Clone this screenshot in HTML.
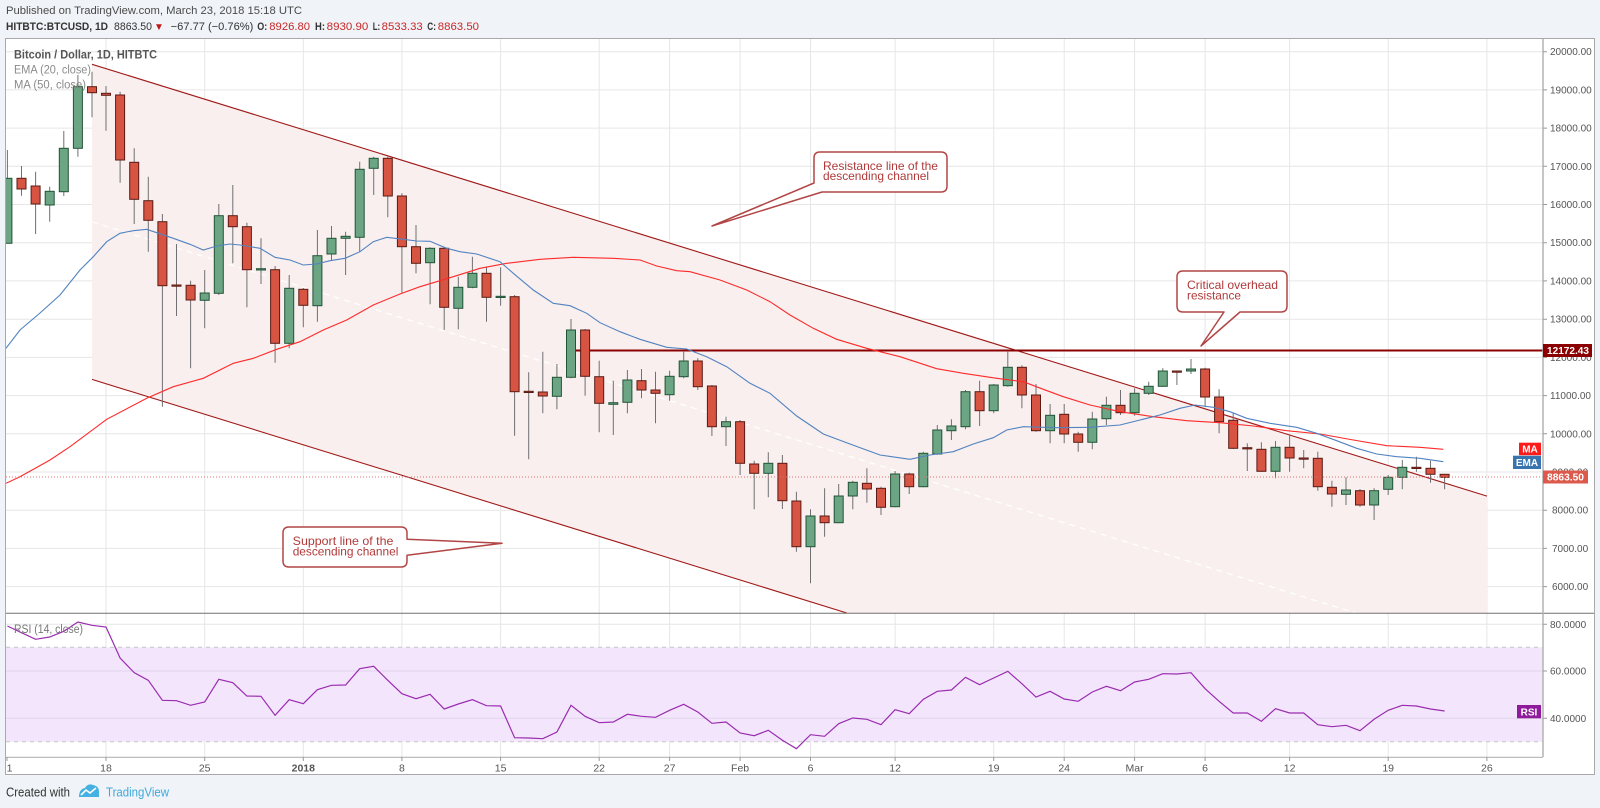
<!DOCTYPE html>
<html><head><meta charset="utf-8"><style>
html,body{margin:0;padding:0;background:#f0f3f7;}
svg{display:block;font-family:"Liberation Sans",Arial,sans-serif;}
</style></head><body>
<svg width="1600" height="808" viewBox="0 0 1600 808" xmlns="http://www.w3.org/2000/svg">
<defs>
<clipPath id="cp"><rect x="6" y="39" width="1537" height="574"/></clipPath>
<clipPath id="cr"><rect x="6" y="614" width="1537" height="143"/></clipPath>
</defs>
<!-- header -->
<text x="6" y="14" font-size="11" fill="#4a4a4a" textLength="296" lengthAdjust="spacingAndGlyphs">Published on TradingView.com, March 23, 2018 15:18 UTC</text>
<g font-size="11" fill="#333">
<text x="6" y="30" font-weight="bold" textLength="102" lengthAdjust="spacingAndGlyphs">HITBTC:BTCUSD, 1D</text>
<text x="114" y="30" textLength="38" lengthAdjust="spacingAndGlyphs">8863.50</text>
<text x="154" y="30" fill="#c01818" font-size="10">▼</text>
<text x="170.7" y="30" textLength="82.6" lengthAdjust="spacingAndGlyphs">−67.77 (−0.76%)</text>
<text x="257.3" y="30" font-weight="bold" textLength="10" lengthAdjust="spacingAndGlyphs">O:</text>
<text x="269.3" y="30" fill="#c82828" textLength="40.7" lengthAdjust="spacingAndGlyphs">8926.80</text>
<text x="315" y="30" font-weight="bold" textLength="10" lengthAdjust="spacingAndGlyphs">H:</text>
<text x="326.7" y="30" fill="#c82828" textLength="41.6" lengthAdjust="spacingAndGlyphs">8930.90</text>
<text x="372.7" y="30" font-weight="bold" textLength="7.5" lengthAdjust="spacingAndGlyphs">L:</text>
<text x="381.7" y="30" fill="#c82828" textLength="41" lengthAdjust="spacingAndGlyphs">8533.33</text>
<text x="427.3" y="30" font-weight="bold" textLength="8.7" lengthAdjust="spacingAndGlyphs">C:</text>
<text x="437.8" y="30" fill="#c82828" textLength="41.2" lengthAdjust="spacingAndGlyphs">8863.50</text>
</g>
<!-- frame -->
<rect x="5.5" y="38.5" width="1589" height="736" fill="#fff" stroke="#a9a9a9" stroke-width="1"/>
<!-- vertical grid -->
<g stroke="#e6e6e6" stroke-width="1">
<path d="M106 39V757M204.7 39V757M303.3 39V757M401.9 39V757M500.6 39V757M599.2 39V757M669.6 39V757M740.1 39V757M810.5 39V757M895.1 39V757M993.7 39V757M1064.2 39V757M1134.6 39V757M1205.1 39V757M1289.6 39V757M1388.2 39V757M1486.9 39V757"/>
<path d="M6 51.7H1543M6 89.9H1543M6 128.1H1543M6 166.3H1543M6 204.5H1543M6 242.7H1543M6 280.9H1543M6 319.2H1543M6 357.4H1543M6 395.6H1543M6 433.8H1543M6 472H1543M6 510.2H1543M6 548.4H1543M6 586.6H1543"/>
</g>
<!-- price pane content -->
<g clip-path="url(#cp)">
<polygon points="92,64.3 1487,496.1 1487,613 846.8,613 92,379.4" fill="#f8efee"/>
<line x1="92" y1="221.9" x2="1356" y2="613" stroke="#ffffff" stroke-width="1.3" stroke-dasharray="6 5"/>
<line x1="92" y1="64.3" x2="1487" y2="496.1" stroke="#a11a1a" stroke-width="1.1"/>
<line x1="92" y1="379.4" x2="846.8" y2="613" stroke="#a11a1a" stroke-width="1.1"/>
<line x1="569.3" y1="350.5" x2="1543" y2="350.5" stroke="#8b0000" stroke-width="2"/>
<!-- wicks -->
<path fill="none" stroke="#707073" stroke-width="1" d="M7.4 150V243.3M21.5 166V195.7M35.6 171.7V234M49.7 186.7V221.7M63.8 131V196M77.9 75V156.7M92 71.7V117.3M106 86V130.7M120.1 91.7V182.7M134.2 148.3V224M148.3 176.7V251.7M162.4 214V406.7M176.5 244V316M190.6 280.7V368.3M204.7 270V328.3M218.8 204V295M232.8 185V263.3M246.9 222.7V307.3M261 238.3V284M275.1 266V362.7M289.2 275V348.3M303.3 288V327.3M317.4 230V321.7M331.5 226V260.7M345.6 231.7V275M359.7 161.7V251.7M373.7 156.7V195M387.8 156.7V217.3M401.9 193.3V292.7M416 225V273.3M430.1 247.3V304.3M444.2 246.7V330M458.3 276.7V329.3M472.4 256.7V288.3M486.5 266.7V321.7M500.6 267.3V305.7M514.6 295V435.7M528.7 372.3V459.3M542.8 351.7V413.3M556.9 364V409.3M571 319V378.3M585.1 329V395.7M599.2 360.7V432.3M613.3 380.7V435M627.4 370V413.3M641.5 369V398.3M655.5 371.7V423.3M669.6 370.7V400.7M683.7 351V378.3M697.8 358.3V390M711.9 385V436M726 416.7V446M740.1 420V475M754.2 460.7V509.3M768.3 452.3V497.3M782.4 455V509M796.4 491.7V551.7M810.5 509.3V583.3M824.6 488.3V536.7M838.7 484V523.3M852.8 480.7V509.3M866.9 468.3V502.7M881 486.7V515M895.1 471V507.3M909.2 472.7V494M923.3 451.7V487.3M937.3 425V455M951.4 419.3V440M965.5 390V429.3M979.6 380.7V426M993.7 384V413.3M1007.8 351.7V386.7M1021.9 365.3V408.3M1036 384V431.7M1050.1 404V443.3M1064.2 404V443.3M1078.2 431.7V451.7M1092.3 411.7V449.3M1106.4 396.7V425M1120.5 390V415M1134.6 388.3V415.7M1148.7 381.7V395M1162.8 368.3V386.7M1176.9 370.7V385M1191 359V374M1205.1 367.7V406.7M1219.1 389.3V433.3M1233.2 413.3V449M1247.3 443.3V471M1261.4 442.3V471.7M1275.5 441V478.3M1289.6 435V471.7M1303.7 450V468.3M1317.8 451.7V490.7M1331.9 480.7V506.7M1346 477.3V505M1360 489V506.7M1374.1 488.3V520M1388.2 475V495M1402.3 460V489.3M1416.4 456.7V471.7M1430.5 460.7V482.7M1444.6 474.3V489.3"/>
<!-- green bodies -->
<g fill="#6ba583" stroke="#225437" stroke-width="1">
<rect x="2.9" y="178.3" width="9" height="65"/>
<rect x="45.2" y="191.3" width="9" height="13.7"/>
<rect x="59.3" y="148.3" width="9" height="43.4"/>
<rect x="73.4" y="86.7" width="9" height="61.6"/>
<rect x="200.2" y="293" width="9" height="7.3"/>
<rect x="214.3" y="215.7" width="9" height="77.6"/>
<rect x="256.5" y="268.7" width="9" height="1.3"/>
<rect x="284.7" y="288.3" width="9" height="55"/>
<rect x="312.9" y="255.7" width="9" height="50"/>
<rect x="327" y="238.3" width="9" height="15.7"/>
<rect x="341.1" y="236.3" width="9" height="2"/>
<rect x="355.2" y="169.3" width="9" height="68"/>
<rect x="369.2" y="158.3" width="9" height="10"/>
<rect x="425.6" y="248.3" width="9" height="14.4"/>
<rect x="453.8" y="287.3" width="9" height="21"/>
<rect x="467.9" y="273.3" width="9" height="14"/>
<rect x="496.1" y="296.3" width="9" height="1.2"/>
<rect x="552.4" y="377.3" width="9" height="19"/>
<rect x="566.5" y="330" width="9" height="47.3"/>
<rect x="608.8" y="402.7" width="9" height="1.6"/>
<rect x="622.9" y="380" width="9" height="22.3"/>
<rect x="665.1" y="376.3" width="9" height="18.4"/>
<rect x="679.2" y="361" width="9" height="15.7"/>
<rect x="721.5" y="421.7" width="9" height="5"/>
<rect x="763.8" y="463.3" width="9" height="10"/>
<rect x="806" y="516" width="9" height="30.7"/>
<rect x="834.2" y="496" width="9" height="26.7"/>
<rect x="848.3" y="482.3" width="9" height="13.7"/>
<rect x="890.6" y="474" width="9" height="32.7"/>
<rect x="918.8" y="453.3" width="9" height="33.4"/>
<rect x="932.8" y="430" width="9" height="24"/>
<rect x="946.9" y="426" width="9" height="4.7"/>
<rect x="961" y="391.7" width="9" height="35"/>
<rect x="989.2" y="385" width="9" height="25.7"/>
<rect x="1003.3" y="367.3" width="9" height="18.4"/>
<rect x="1045.6" y="415.3" width="9" height="15.4"/>
<rect x="1087.8" y="419" width="9" height="23.3"/>
<rect x="1101.9" y="405.3" width="9" height="13.4"/>
<rect x="1130.1" y="393.3" width="9" height="19.4"/>
<rect x="1144.2" y="386.3" width="9" height="7"/>
<rect x="1158.3" y="371" width="9" height="15.3"/>
<rect x="1186.5" y="369" width="9" height="2"/>
<rect x="1271" y="447.3" width="9" height="24"/>
<rect x="1341.5" y="490" width="9" height="4.3"/>
<rect x="1369.6" y="490.7" width="9" height="14.3"/>
<rect x="1383.7" y="477.3" width="9" height="12"/>
<rect x="1397.8" y="467.3" width="9" height="10"/>
</g>
<!-- red bodies -->
<g fill="#d75442" stroke="#5b1a13" stroke-width="1">
<rect x="17" y="178.3" width="9" height="10.7"/>
<rect x="31.1" y="186" width="9" height="18"/>
<rect x="87.5" y="86.7" width="9" height="6"/>
<rect x="101.5" y="93.3" width="9" height="2"/>
<rect x="115.6" y="95" width="9" height="65"/>
<rect x="129.7" y="162.3" width="9" height="37"/>
<rect x="143.8" y="200.7" width="9" height="19.6"/>
<rect x="157.9" y="221.7" width="9" height="64"/>
<rect x="172" y="285" width="9" height="1.2"/>
<rect x="186.1" y="285.3" width="9" height="14.7"/>
<rect x="228.3" y="215.7" width="9" height="11"/>
<rect x="242.4" y="226.7" width="9" height="43"/>
<rect x="270.6" y="269.7" width="9" height="73.6"/>
<rect x="298.8" y="289.3" width="9" height="16"/>
<rect x="383.3" y="158.3" width="9" height="37.7"/>
<rect x="397.4" y="196" width="9" height="50.7"/>
<rect x="411.5" y="246.7" width="9" height="16.6"/>
<rect x="439.7" y="248.3" width="9" height="59"/>
<rect x="482" y="273.3" width="9" height="24"/>
<rect x="510.1" y="296.7" width="9" height="95"/>
<rect x="524.2" y="391.3" width="9" height="1.2"/>
<rect x="538.3" y="392" width="9" height="4"/>
<rect x="580.6" y="330" width="9" height="46.3"/>
<rect x="594.7" y="376.7" width="9" height="26.6"/>
<rect x="637" y="380.7" width="9" height="9.3"/>
<rect x="651" y="390" width="9" height="3.3"/>
<rect x="693.3" y="361" width="9" height="25.7"/>
<rect x="707.4" y="386" width="9" height="40.7"/>
<rect x="735.6" y="421.7" width="9" height="41.6"/>
<rect x="749.7" y="464" width="9" height="9.3"/>
<rect x="777.9" y="463.3" width="9" height="37.4"/>
<rect x="791.9" y="501" width="9" height="45.7"/>
<rect x="820.1" y="516" width="9" height="6.7"/>
<rect x="862.4" y="483.3" width="9" height="5.7"/>
<rect x="876.5" y="488.3" width="9" height="19"/>
<rect x="904.7" y="474" width="9" height="12.7"/>
<rect x="975.1" y="391.7" width="9" height="19"/>
<rect x="1017.4" y="367.3" width="9" height="27.7"/>
<rect x="1031.5" y="395" width="9" height="35.7"/>
<rect x="1059.7" y="414.3" width="9" height="19.7"/>
<rect x="1073.7" y="434" width="9" height="8.3"/>
<rect x="1116" y="405.3" width="9" height="7.4"/>
<rect x="1172.4" y="371" width="9" height="1.2"/>
<rect x="1200.6" y="369" width="9" height="28"/>
<rect x="1214.6" y="397" width="9" height="24.7"/>
<rect x="1228.7" y="420.3" width="9" height="28"/>
<rect x="1242.8" y="447.7" width="9" height="1.2"/>
<rect x="1256.9" y="449.3" width="9" height="22"/>
<rect x="1285.1" y="447.3" width="9" height="10.7"/>
<rect x="1299.2" y="458" width="9" height="1.2"/>
<rect x="1313.3" y="458.3" width="9" height="28.4"/>
<rect x="1327.4" y="487.3" width="9" height="6.7"/>
<rect x="1355.5" y="490.7" width="9" height="14.3"/>
<rect x="1411.9" y="467.3" width="9" height="1.2"/>
<rect x="1426" y="468.3" width="9" height="6"/>
<rect x="1440.1" y="474.3" width="9" height="3"/>
</g>
<!-- MA & EMA -->
<polyline fill="none" stroke="#ff2a2a" stroke-width="1.1" points="6,483.3 20,476.7 50,460 70,446.7 106.7,419.3 146.7,398.3 173.3,386.7 203.3,378.3 233.3,363.3 253.3,358.3 276.7,349.3 300,341.7 323.3,330 346.7,320 373.3,305 400,294 420,286.7 453.3,276.7 480,268.3 506.7,263.3 540,259.3 573.3,257.3 613.3,258.3 640,260 656.7,266 676.7,270.7 690,271.7 720,280 746.7,290 770,301.7 790,315 813.3,328.3 836.7,339.3 866.7,348.3 900,356.7 936.7,368.7 963.3,373.3 996.7,378.3 1023.3,381.7 1043.3,389.3 1063.3,396.7 1090,405 1120,411.7 1153.3,416.7 1186.7,420.7 1220,422.7 1253.3,426 1286.7,430.7 1320,434 1353.3,440 1386.7,445.7 1420,447.3 1443.3,449.3"/>
<polyline fill="none" stroke="#5283c0" stroke-width="1.1" points="6,348.3 20,330 40,313 60,295 80,270 93.3,256.7 106.7,241.7 120,233.3 133.3,230.7 146.7,229.3 156.7,232.7 173.3,238.3 190,244.3 203.3,250 216.7,246 230,244 240,245 260,248.3 275,257.3 290,260 303.3,265 316.7,264 330,260.7 345,258.3 360,251.7 373.3,241.7 386.7,237.3 403.3,239.3 416.7,241 430,241.3 446.7,248.3 460,251.7 476.7,254 500,261.7 513.3,273.3 533.3,290 553.3,303.3 570,305.7 586.7,313.3 600,322.7 620,331.7 640,339.3 666.7,347.3 686.7,349 706.7,356.7 726.7,366.7 750,383.3 770,393.3 796.7,416 823.3,434 850,444 880,455 910,459.3 930,455 953.3,451.7 973.3,444 993.3,437.7 1006.7,430 1023.3,426.7 1056.7,427.7 1090,427.3 1120,425 1140,420 1160,415 1180,408.3 1195,405 1213.3,407.3 1230,411.7 1246.7,418.3 1270,423.3 1296.7,427.3 1316.7,433.3 1336.7,440.7 1356.7,448.3 1376.7,454 1396.7,456.7 1420,458.3 1443.3,461.7"/>
<line x1="6" y1="477" x2="1543" y2="477" stroke="#e07070" stroke-width="1" stroke-dasharray="1 2"/>
</g>
<!-- legend -->
<text x="14" y="58.7" font-size="11.5" font-weight="bold" fill="#555" textLength="143" lengthAdjust="spacingAndGlyphs">Bitcoin / Dollar, 1D, HITBTC</text>
<text x="14" y="73.5" font-size="11.5" fill="#8a8a8a" textLength="77" lengthAdjust="spacingAndGlyphs">EMA (20, close)</text>
<text x="14" y="88.3" font-size="11.5" fill="#8a8a8a" textLength="72" lengthAdjust="spacingAndGlyphs">MA (50, close)</text>
<!-- callouts -->
<g fill="#fff" stroke="#b24646" stroke-width="1.5" stroke-linejoin="round">
<path d="M820 152H941Q947 152 947 158V186Q947 192 941 192H822L712 226L814 183V158Q814 152 820 152Z"/>
<path d="M1183 271H1281Q1287 271 1287 277V306Q1287 312 1281 312H1240L1201 346L1224 312H1183Q1177 312 1177 306V277Q1177 271 1183 271Z"/>
<path d="M289 527H401Q407 527 407 533V539.3L502 543.3L407 555.3V561Q407 567 401 567H289Q283 567 283 561V533Q283 527 289 527Z"/>
</g>
<g font-size="12" fill="#b03a3a">
<text x="823" y="169.8" textLength="115" lengthAdjust="spacingAndGlyphs">Resistance line of the</text>
<text x="823" y="180.2" textLength="106" lengthAdjust="spacingAndGlyphs">descending channel</text>
<text x="1187" y="289" textLength="91" lengthAdjust="spacingAndGlyphs">Critical overhead</text>
<text x="1187" y="299.7" textLength="54" lengthAdjust="spacingAndGlyphs">resistance</text>
<text x="292.7" y="545" textLength="100.7" lengthAdjust="spacingAndGlyphs">Support line of the</text>
<text x="292.7" y="555.7" textLength="105.7" lengthAdjust="spacingAndGlyphs">descending channel</text>
</g>
<!-- RSI pane -->
<g clip-path="url(#cr)">
<path stroke="#e6e6e6" stroke-width="1" d="M6 624.3H1543M6 671H1543M6 718.3H1543"/>
<rect x="6" y="647.3" width="1537" height="94.4" fill="#f3e6fc"/>
<path stroke="#e2d3ec" stroke-width="1" d="M6 671H1543M6 718.3H1543"/>
<path stroke="#c6c6c6" stroke-width="1" stroke-dasharray="4 4" d="M6 647.3H1543M6 741.7H1543"/>
<polyline fill="none" stroke="#9a2cb0" stroke-width="1.2" points="7.4,626 21.5,632.7 35.6,639.3 49.7,637 63.8,631.3 77.9,622 92,625.3 106,627 120.1,658 134.2,672.7 148.3,680.3 162.4,700.3 176.5,700.7 190.6,705.3 204.7,702 218.8,679.3 232.8,682.7 246.9,696 261,696.3 275.1,715.3 289.2,699.7 303.3,703.7 317.4,689.7 331.5,685.3 345.6,685 359.7,668.7 373.7,666.3 387.8,680.3 401.9,693.7 416,698.7 430.1,694.3 444.2,709 458.3,704 472.4,699.7 486.5,705.7 500.6,706 514.6,737.7 528.7,738 542.8,738.7 556.9,732 571,705.3 585.1,716.3 599.2,722.7 613.3,722 627.4,714.3 641.5,716.3 655.5,717.3 669.6,710.3 683.7,704.3 697.8,712 711.9,723.3 726,722 740.1,733 754.2,735.7 768.3,730.3 782.4,740.3 796.4,748.7 810.5,734.7 824.6,736.3 838.7,723.7 852.8,718 866.9,719.3 881,724.7 895.1,709.7 909.2,713.7 923.3,699.3 937.3,691.3 951.4,690 965.5,677.3 979.6,684.7 993.7,678 1007.8,671.3 1021.9,683.7 1036,697 1050.1,691.3 1064.2,699 1078.2,701.3 1092.3,692 1106.4,686.3 1120.5,690.7 1134.6,682 1148.7,679.3 1162.8,673.7 1176.9,674 1191,672.7 1205.1,688.7 1219.1,701.3 1233.2,713 1247.3,713 1261.4,721.3 1275.5,708.7 1289.6,713 1303.7,713 1317.8,724.7 1331.9,726.7 1346,725.3 1360,730.7 1374.1,719.3 1388.2,710.3 1402.3,705.3 1416.4,706 1430.5,709 1444.6,711"/>
</g>
<text x="14" y="633" font-size="11.5" fill="#777" textLength="69" lengthAdjust="spacingAndGlyphs">RSI (14, close)</text>
<!-- axes lines -->
<line x1="6" y1="613.3" x2="1594" y2="613.3" stroke="#707070" stroke-width="1"/>
<line x1="1543" y1="39" x2="1543" y2="757" stroke="#b4b4b4" stroke-width="1.5"/>
<line x1="6" y1="757.3" x2="1543" y2="757.3" stroke="#b4b4b4" stroke-width="1.2"/>
<!-- price axis ticks and labels -->
<path stroke="#999" stroke-width="1" d="M1543 51.7h4M1543 89.9h4M1543 128.1h4M1543 166.3h4M1543 204.5h4M1543 242.7h4M1543 280.9h4M1543 319.2h4M1543 357.4h4M1543 395.6h4M1543 433.8h4M1543 472h4M1543 510.2h4M1543 548.4h4M1543 586.6h4M1543 624.3h4M1543 671h4M1543 718.3h4"/>
<g font-size="10" fill="#555">
<text x="1550" y="55.2">20000.00</text>
<text x="1550" y="93.4">19000.00</text>
<text x="1550" y="131.6">18000.00</text>
<text x="1550" y="169.8">17000.00</text>
<text x="1550" y="208">16000.00</text>
<text x="1550" y="246.2">15000.00</text>
<text x="1550" y="284.4">14000.00</text>
<text x="1550" y="322.7">13000.00</text>
<text x="1550" y="360.9">12000.00</text>
<text x="1550" y="399.1">11000.00</text>
<text x="1550" y="437.3">10000.00</text>
<text x="1552" y="475.5">9000.00</text>
<text x="1552" y="513.7">8000.00</text>
<text x="1552" y="551.9">7000.00</text>
<text x="1552" y="590.1">6000.00</text>
<text x="1550" y="627.8">80.0000</text>
<text x="1550" y="674.5">60.0000</text>
<text x="1550" y="721.8">40.0000</text>
</g>
<!-- axis labels boxes -->
<rect x="1543" y="344" width="49" height="13" fill="#8b0000"/>
<text x="1547" y="354.2" font-size="10" font-weight="bold" fill="#fff" textLength="42" lengthAdjust="spacingAndGlyphs">12172.43</text>
<rect x="1543" y="470.5" width="45" height="13" fill="#db5a4c"/>
<text x="1547" y="480.7" font-size="10" font-weight="bold" fill="#fff" textLength="37" lengthAdjust="spacingAndGlyphs">8863.50</text>
<rect x="1519" y="442.7" width="22" height="12.5" fill="#ff1a1a"/>
<text x="1530" y="452.7" font-size="10" font-weight="bold" fill="#fff" text-anchor="middle">MA</text>
<rect x="1513" y="455.7" width="28" height="13.3" fill="#3a74ae"/>
<text x="1527" y="466" font-size="10" font-weight="bold" fill="#fff" text-anchor="middle">EMA</text>
<rect x="1517" y="705" width="24" height="13.3" fill="#8e1a9c"/>
<text x="1529" y="715.3" font-size="10" font-weight="bold" fill="#fff" text-anchor="middle">RSI</text>
<!-- time axis -->
<path stroke="#999" stroke-width="1" d="M7 757v4M106 757v4M204.7 757v4M303.3 757v4M401.9 757v4M500.6 757v4M599.2 757v4M669.6 757v4M740.1 757v4M810.5 757v4M895.1 757v4M993.7 757v4M1064.2 757v4M1134.6 757v4M1205.1 757v4M1289.6 757v4M1388.2 757v4M1486.9 757v4"/>
<g font-size="10.5" fill="#555" text-anchor="middle">
<text x="9.5" y="771.5">1</text>
<text x="106" y="771.5">18</text>
<text x="204.7" y="771.5">25</text>
<text x="303.3" y="771.5" font-weight="bold">2018</text>
<text x="401.9" y="771.5">8</text>
<text x="500.6" y="771.5">15</text>
<text x="599.2" y="771.5">22</text>
<text x="669.6" y="771.5">27</text>
<text x="740.1" y="771.5">Feb</text>
<text x="810.5" y="771.5">6</text>
<text x="895.1" y="771.5">12</text>
<text x="993.7" y="771.5">19</text>
<text x="1064.2" y="771.5">24</text>
<text x="1134.6" y="771.5">Mar</text>
<text x="1205.1" y="771.5">6</text>
<text x="1289.6" y="771.5">12</text>
<text x="1388.2" y="771.5">19</text>
<text x="1486.9" y="771.5">26</text>
</g>
<!-- footer -->
<text x="6" y="796.5" font-size="12.5" fill="#333" textLength="64" lengthAdjust="spacingAndGlyphs">Created with</text>
<path d="M79 797Q79 789 85 788Q88 783 93 785Q99 786 99 792L99 797Z" fill="#45b1e2"/>
<polyline points="81,795 86,790 90,793 96,788" fill="none" stroke="#fff" stroke-width="1.6"/>
<text x="106" y="796.5" font-size="12.5" fill="#3fa9dd" textLength="63" lengthAdjust="spacingAndGlyphs">TradingView</text>
</svg>
</body></html>
